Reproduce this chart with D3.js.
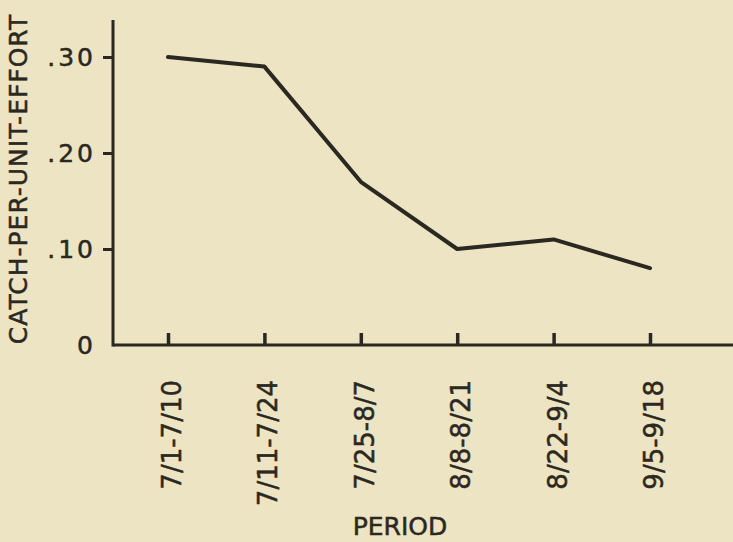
<!DOCTYPE html>
<html>
<head>
<meta charset="utf-8">
<script src="https://cdn.jsdelivr.net/npm/d3@7"></script>
<style>
  html, body { margin: 0; padding: 0; background: #ece4c2; }
  svg { display: block; }
  text { font-family: 'DejaVu Sans', sans-serif; fill: #2b2821; stroke: #2b2821; stroke-width: 0.5; }
</style>
</head>
<body>
<div id="chart"></div>
<script>
// Data
const periods = ['7/1-7/10', '7/11-7/24', '7/25-8/7', '8/8-8/21', '8/22-9/4', '9/5-9/18'];
const cpue = [0.30, 0.29, 0.17, 0.10, 0.11, 0.08];
const yTicks = [0, 0.10, 0.20, 0.30];
const yTickLabels = ['0', '.10', '.20', '.30'];

const width = 733;
const height = 542;
const ink = '#2b2821';

const svg = d3.select('#chart')
    .append('svg')
        .attr('width', width)
        .attr('height', height);

const x = d3.scalePoint()
    .domain(periods)
    .range([168, 650]);

const y = d3.scaleLinear()
    .domain([0, 0.30])
    .range([345, 57]);

// axes, drawn by d3 then restyled to look hand-inked
const xAxis = svg.append('g')
    .attr('transform', `translate(0, ${y(0)})`)
    .call(d3.axisBottom(x).tickSize(-12).tickFormat(''));
xAxis.select('.domain').remove();
xAxis.selectAll('.tick line')
    .attr('stroke', ink)
    .attr('stroke-width', 3.5);

svg.append('line')
    .attr('x1', 113).attr('x2', width)
    .attr('y1', y(0)).attr('y2', y(0))
    .attr('stroke', ink)
    .attr('stroke-width', 3);

const yAxis = svg.append('g')
    .attr('transform', 'translate(113, 0)')
    .call(d3.axisLeft(y).tickValues(yTicks).tickSize(10).tickPadding(7)
        .tickFormat((d, i) => yTickLabels[i]));
yAxis.select('.domain').remove();
yAxis.selectAll('.tick line')
    .attr('stroke', ink)
    .attr('stroke-width', 3)
    .attr('display', d => d === 0 ? 'none' : null);
yAxis.selectAll('.tick text')
    .attr('font-size', 25)
    .attr('letter-spacing', 3)
    .attr('fill', ink)
    .attr('font-family', "'DejaVu Sans', sans-serif");

svg.append('line')
    .attr('x1', 113).attr('x2', 113)
    .attr('y1', 20).attr('y2', y(0) + 1.5)
    .attr('stroke', ink)
    .attr('stroke-width', 3);

// period labels, rotated
svg.append('g')
    .selectAll('text')
    .data(periods)
    .join('text')
        .attr('transform', d => `translate(${x(d) + 13}, 380) rotate(-90)`)
        .attr('text-anchor', 'end')
        .attr('font-size', 26)
        .text(d => d);

// the series
const line = d3.line()
    .x((d, i) => x(periods[i]))
    .y(d => y(d));

svg.append('path')
    .datum(cpue)
    .attr('d', line)
    .attr('fill', 'none')
    .attr('stroke', ink)
    .attr('stroke-width', 4)
    .attr('stroke-linejoin', 'round')
    .attr('stroke-linecap', 'round');

// axis titles
svg.append('text')
    .attr('x', 400)
    .attr('y', 535)
    .attr('text-anchor', 'middle')
    .attr('font-size', 25)
    .text('PERIOD');

svg.append('text')
    .attr('transform', 'translate(27, 179) rotate(-90)')
    .attr('text-anchor', 'middle')
    .attr('font-size', 25)
    .attr('letter-spacing', 1)
    .text('CATCH-PER-UNIT-EFFORT');
</script>
</body>
</html>
